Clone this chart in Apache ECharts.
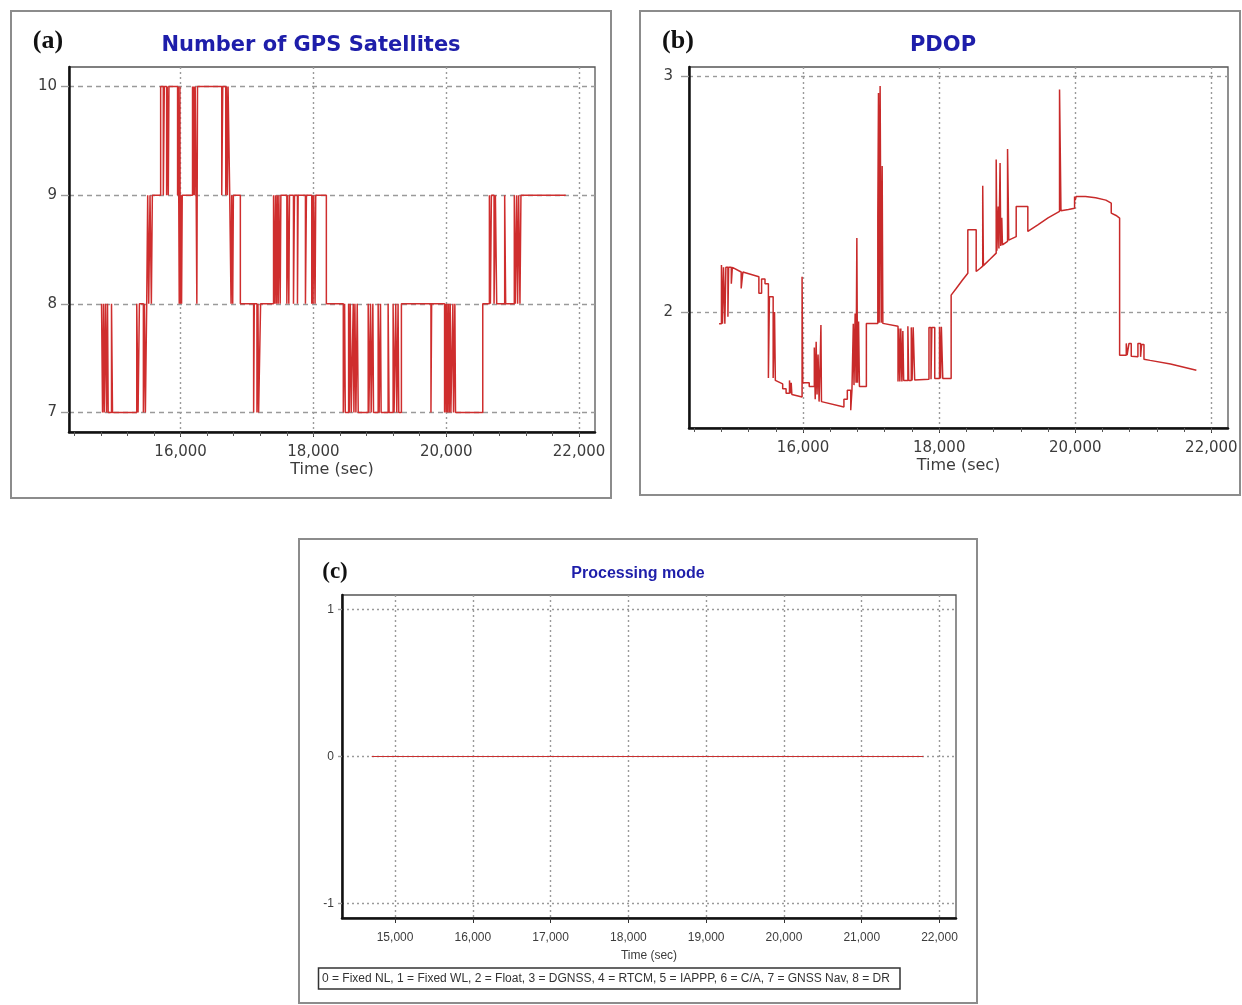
<!DOCTYPE html>
<html>
<head>
<meta charset="utf-8">
<title>GPS satellites, PDOP and processing mode</title>
<script src="https://cdn.jsdelivr.net/npm/echarts@6/dist/echarts.min.js"></script>
<style>
  html, body { margin: 0; padding: 0; background: #fff; }
  #chart { width: 1242px; height: 1005px; }
</style>
</head>
<body>
<div id="chart"></div>
<script>
// (a) number of GPS satellites, drawn as steps: [time (sec), count]
const satSteps = [
  [14810, 8], [14825, 7], [14840, 8], [14850, 7], [14870, 8], [14885, 7], [14900, 8], [14910, 7],
  [14960, 8], [14975, 7], [15340, 8], [15360, 7], [15380, 8], [15440, 7], [15455, 8], [15470, 7],
  [15490, 8], [15505, 9], [15520, 8], [15540, 9], [15560, 8], [15575, 9],
  [15700, 10], [15740, 9], [15755, 10], [15790, 9], [15800, 10], [15815, 9], [15825, 10],
  [15955, 9], [15965, 10], [15980, 8], [15990, 10], [15995, 8], [16005, 9], [16015, 8], [16025, 9],
  [16180, 10], [16190, 9], [16200, 10], [16210, 9], [16220, 10], [16235, 9], [16245, 8], [16255, 10],
  [16620, 9], [16635, 10], [16680, 9], [16690, 10], [16705, 9], [16715, 10], [16740, 9], [16760, 8],
  [16770, 9], [16785, 8], [16795, 9], [16900, 8],
  [17100, 7], [17110, 8], [17150, 7], [17165, 8], [17175, 7], [17205, 8],
  [17400, 9], [17420, 8], [17430, 9], [17445, 8], [17455, 9], [17470, 8], [17480, 9], [17500, 8],
  [17510, 9], [17600, 8], [17610, 9], [17630, 8], [17640, 9], [17700, 8], [17715, 9], [17760, 8],
  [17770, 9], [17880, 8], [17895, 9], [17975, 8], [17985, 9], [17995, 8], [18005, 9], [18025, 8],
  [18035, 9], [18195, 8],
  [18450, 7], [18470, 8], [18480, 7], [18530, 8], [18540, 7], [18555, 8], [18570, 7], [18600, 8],
  [18610, 7], [18625, 8], [18640, 7], [18660, 8], [18675, 7], [18825, 8], [18835, 7], [18860, 8],
  [18870, 7], [18895, 8], [18905, 7], [18975, 8], [18990, 7], [19010, 8], [19020, 7], [19125, 8],
  [19140, 7], [19200, 8], [19215, 7], [19240, 8], [19255, 7], [19275, 8], [19285, 7], [19325, 8],
  [19770, 7], [19780, 8],
  [19975, 7], [19990, 8], [20000, 7], [20010, 8], [20020, 7], [20035, 8], [20045, 7], [20060, 8],
  [20070, 7], [20100, 8], [20110, 7], [20130, 8], [20140, 7],
  [20550, 8], [20650, 9], [20665, 8], [20680, 9], [20720, 8], [20740, 9], [20760, 8], [20880, 9],
  [20895, 8], [21025, 9], [21040, 8], [21060, 9], [21075, 8], [21090, 9], [21110, 8], [21125, 9],
  [21800, 9]
];

// (b) PDOP: [time (sec), value]
const pdopPoints = [
  [14765, 1.95], [14800, 1.95], [14800, 2.2], [14815, 2.2], [14815, 1.95], [14830, 1.95], [14830, 2.19],
  [14850, 2.19], [14850, 1.95], [14865, 1.95], [14865, 2.19], [14895, 2.19], [14895, 1.98], [14905, 1.98],
  [14905, 2.19], [14945, 2.19], [14945, 2.12], [14960, 2.12], [14960, 2.19],
  [15090, 2.17], [15090, 2.10], [15115, 2.10], [15115, 2.17],
  [15350, 2.15], [15350, 2.08], [15390, 2.08], [15390, 2.14], [15440, 2.14], [15440, 2.12], [15490, 2.12],
  [15490, 1.72], [15505, 1.72], [15505, 2.065], [15560, 2.065], [15560, 1.72], [15580, 1.72], [15580, 2.0],
  [15592, 2.0], [15592, 1.71],
  [15700, 1.695], [15700, 1.675], [15750, 1.675], [15750, 1.655], [15800, 1.655], [15800, 1.71],
  [15812, 1.71], [15812, 1.655], [15825, 1.655], [15825, 1.70], [15835, 1.70], [15835, 1.65],
  [15985, 1.64], [15985, 2.15], [15995, 2.15], [15995, 1.70],
  [16090, 1.70], [16090, 1.684], [16165, 1.684],
  [16165, 1.85], [16178, 1.85], [16178, 1.63], [16192, 1.63], [16192, 1.874], [16205, 1.874], [16205, 1.65],
  [16220, 1.65], [16220, 1.82], [16235, 1.82], [16235, 1.62], [16250, 1.62], [16250, 1.78], [16262, 1.78],
  [16262, 1.945], [16270, 1.945], [16270, 1.62], [16290, 1.62],
  [16600, 1.597], [16600, 1.63], [16650, 1.63], [16650, 1.668], [16700, 1.668], [16700, 1.583],
  [16718, 1.583], [16718, 1.668], [16738, 1.668], [16738, 1.95], [16748, 1.95], [16748, 1.69],
  [16765, 1.69], [16765, 1.994], [16778, 1.994], [16778, 1.70], [16790, 1.70], [16790, 2.314],
  [16800, 2.314], [16800, 1.70], [16815, 1.70], [16815, 1.96], [16828, 1.96], [16828, 1.684],
  [16930, 1.684], [16930, 1.952],
  [17098, 1.952], [17098, 2.40], [17108, 2.40], [17108, 2.93], [17118, 2.93], [17118, 1.955],
  [17132, 1.955], [17132, 2.959], [17148, 2.959], [17148, 1.955], [17162, 1.955], [17162, 2.62],
  [17172, 2.62], [17172, 1.952],
  [17395, 1.94], [17395, 1.705], [17408, 1.705], [17408, 1.93], [17422, 1.93], [17422, 1.705],
  [17436, 1.705], [17436, 1.93], [17452, 1.93], [17452, 1.705], [17466, 1.705], [17466, 1.92],
  [17478, 1.92], [17478, 1.71],
  [17540, 1.71], [17540, 1.94], [17552, 1.94], [17552, 1.71], [17590, 1.71], [17590, 1.935],
  [17602, 1.935], [17602, 1.71], [17618, 1.71], [17618, 1.935], [17640, 1.935], [17640, 1.712],
  [17850, 1.715], [17850, 1.935], [17880, 1.935], [17880, 1.715], [17892, 1.715], [17892, 1.935],
  [17935, 1.935], [17935, 1.718],
  [18005, 1.718], [18005, 1.938], [18020, 1.938], [18020, 1.718], [18032, 1.718], [18032, 1.938],
  [18053, 1.938], [18053, 1.718],
  [18176, 1.718], [18176, 2.072],
  [18250, 2.10], [18340, 2.135], [18421, 2.165], [18421, 2.349], [18544, 2.349], [18544, 2.172],
  [18600, 2.185], [18640, 2.195], [18640, 2.536], [18650, 2.536], [18650, 2.197],
  [18750, 2.225], [18838, 2.25], [18838, 2.647], [18848, 2.647], [18848, 2.26], [18868, 2.26],
  [18868, 2.448], [18878, 2.448], [18878, 2.27], [18895, 2.27], [18895, 2.633], [18905, 2.633],
  [18905, 2.28], [18920, 2.28], [18920, 2.40], [18930, 2.40], [18930, 2.285],
  [19005, 2.30], [19005, 2.692], [19015, 2.692], [19015, 2.484], [19022, 2.484], [19022, 2.305],
  [19132, 2.32], [19132, 2.448], [19303, 2.448], [19303, 2.342],
  [19450, 2.37], [19600, 2.40], [19769, 2.427], [19769, 2.945], [19790, 2.945], [19790, 2.43],
  [19900, 2.435], [19990, 2.441], [19990, 2.49], [20000, 2.49], [20000, 2.475], [20012, 2.475],
  [20012, 2.49], [20150, 2.49], [20300, 2.485], [20450, 2.475], [20529, 2.462], [20529, 2.42],
  [20600, 2.41], [20652, 2.399],
  [20652, 1.817], [20750, 1.817], [20750, 1.867], [20762, 1.867], [20762, 1.817], [20790, 1.817],
  [20790, 1.867], [20823, 1.867], [20823, 1.812], [20921, 1.81], [20921, 1.867], [20960, 1.867],
  [20960, 1.81], [20975, 1.81], [20975, 1.862], [21010, 1.862], [21010, 1.80], [21019, 1.80],
  [21100, 1.795], [21400, 1.78], [21780, 1.753]
];

// (c) processing mode (0 = Fixed NL over the whole run)
const modePoints = [[14700, 0], [21790, 0]];

// tick values
const timeTicksAB = [16000, 18000, 20000, 22000];
const timeMinorAB = [14400, 14800, 15200, 15600, 16000, 16400, 16800, 17200, 17600, 18000,
  18400, 18800, 19200, 19600, 20000, 20400, 20800, 21200, 21600, 22000];
const timeTicksC = [15000, 16000, 17000, 18000, 19000, 20000, 21000, 22000];
const satTicks = [7, 8, 9, 10];
const pdopTicks = [2, 3];
const modeTicks = [-1, 0, 1];
const modeLegend = '0 = Fixed NL, 1 = Fixed WL, 2 = Float, 3 = DGNSS, 4 = RTCM, 5 = IAPPP, 6 = C/A, 7 = GNSS Nav, 8 = DR';

const fmt = v => v.toLocaleString('en-US');
const fontAB = { fontFamily: 'DejaVu Sans', fontSize: 15, color: '#3c3c3c' };
const fontC = { fontFamily: 'Liberation Sans', fontSize: 12, color: '#3c3c3c' };
const blackAxis = { show: true, onZero: false, lineStyle: { color: '#111', width: 2.5 } };
const titleBlue = '#1e1eaa';

function timeAxis(grid, min, max, ticks, font, nameSize, labelMargin, nameGap, vDash) {
  return {
    type: 'value', gridIndex: grid, min: min, max: max, position: 'bottom',
    name: 'Time (sec)', nameLocation: 'middle', nameGap: nameGap,
    nameTextStyle: Object.assign({}, font, { fontSize: nameSize }),
    axisLine: blackAxis,
    axisTick: { show: true, customValues: ticks, length: 5, lineStyle: { color: '#333' } },
    axisLabel: Object.assign({ customValues: ticks, formatter: fmt, margin: labelMargin }, font),
    splitLine: { show: true, lineStyle: { type: vDash, color: '#9a9a9a', width: 1.4 } }
  };
}

// extra axis that only carries the small ticks every 400 s
function minorAxis(grid, min, max) {
  return {
    type: 'value', gridIndex: grid, min: min, max: max, position: 'bottom',
    axisLine: { show: false },
    axisTick: { show: true, customValues: timeMinorAB, length: 4, lineStyle: { color: '#555' } },
    axisLabel: { show: false },
    splitLine: { show: false }
  };
}

function valueAxis(grid, min, max, ticks, font, labelMargin, tickLen, hDash) {
  return {
    type: 'value', gridIndex: grid, min: min, max: max,
    axisLine: blackAxis,
    axisTick: { show: true, customValues: ticks, length: tickLen, lineStyle: { color: '#9a9a9a', width: 1.4 } },
    axisLabel: Object.assign({ customValues: ticks, margin: labelMargin }, font),
    splitLine: { show: true, lineStyle: { type: hDash, color: '#9a9a9a', width: 1.4 } }
  };
}

function box(x, y, w, h, stroke, width) {
  return { type: 'rect', shape: { x: x, y: y, width: w, height: h },
    style: { fill: 'none', stroke: stroke, lineWidth: width }, silent: true };
}

function label(x, y, text, font, fill, align) {
  return { type: 'text', x: x, y: y, silent: true,
    style: { text: text, font: font, fill: fill, align: align || 'center', verticalAlign: 'middle' } };
}

const myChart = echarts.init(document.getElementById('chart'));
const frame = { show: true, borderColor: '#555', borderWidth: 1.3, backgroundColor: '#fff' };

const option = {
  animation: false,
  backgroundColor: '#fff',
  grid: [
    Object.assign({ left: 69, top: 67, width: 526, height: 365 }, frame),
    Object.assign({ left: 689, top: 67, width: 539, height: 361 }, frame),
    Object.assign({ left: 342, top: 595, width: 614, height: 323 }, frame)
  ],
  xAxis: [
    timeAxis(0, 14320, 22240, timeTicksAB, fontAB, 16, 13, 30, [2, 3]),
    minorAxis(0, 14320, 22240),
    timeAxis(1, 14323, 22245, timeTicksAB, fontAB, 16, 13, 30, [2, 3]),
    minorAxis(1, 14323, 22245),
    timeAxis(2, 14318, 22212, timeTicksC, fontC, 12, 14, 32, [2, 3])
  ],
  yAxis: [
    valueAxis(0, 6.82, 10.18, satTicks, fontAB, 12, 8, [5, 4]),
    valueAxis(1, 1.508, 3.04, pdopTicks, fontAB, 16, 8, [4, 4]),
    valueAxis(2, -1.1, 1.1, modeTicks, fontC, 8, 4, [2, 3])
  ],
  series: [
    {
      name: 'Number of GPS Satellites', type: 'line', xAxisIndex: 0, yAxisIndex: 0,
      step: 'end', symbol: 'none', data: satSteps,
      lineStyle: { color: '#cf2e2e', width: 1.5 }
    },
    {
      name: 'PDOP', type: 'line', xAxisIndex: 2, yAxisIndex: 1,
      symbol: 'none', data: pdopPoints,
      lineStyle: { color: '#c82a2a', width: 1.5 }
    },
    {
      name: 'Processing mode', type: 'line', xAxisIndex: 4, yAxisIndex: 2,
      symbol: 'none', data: modePoints,
      lineStyle: { color: '#c83030', width: 1 }
    }
  ],
  graphic: [
    box(11, 11, 600, 487, '#8c8c8c', 2),
    box(640, 11, 600, 484, '#8c8c8c', 2),
    box(299, 539, 678, 464, '#8c8c8c', 2),
    label(48, 41, '(a)', 'bold 26px "Liberation Serif"', '#111'),
    label(311, 46, 'Number of GPS Satellites', 'bold 21px "DejaVu Sans"', titleBlue),
    label(678, 41, '(b)', 'bold 26px "Liberation Serif"', '#111'),
    label(943, 46, 'PDOP', 'bold 21px "DejaVu Sans"', titleBlue),
    label(335, 572, '(c)', 'bold 23px "Liberation Serif"', '#111'),
    label(638, 574, 'Processing mode', 'bold 16px "Liberation Sans"', titleBlue),
    box(318.5, 968, 581.5, 21, '#333', 1.5),
    label(322, 978.5, modeLegend, '12px "Liberation Sans"', '#333', 'left')
  ]
};
myChart.setOption(option);
</script>
</body>
</html>
